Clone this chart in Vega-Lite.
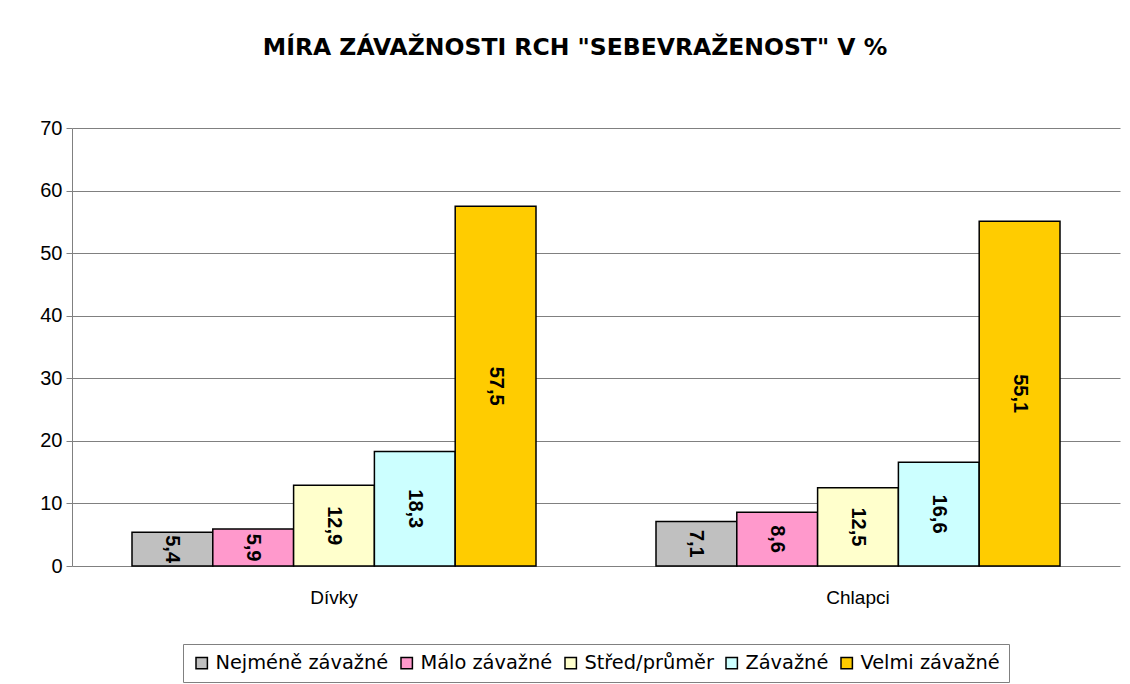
{
  "$schema": "https://vega.github.io/schema/vega-lite/v6.json",
  "autosize": "none",
  "width": 1048,
  "height": 438,
  "padding": {"left": 72, "top": 128, "right": 10, "bottom": 118},
  "background": "white",
  "title": {
    "text": "MÍRA ZÁVAŽNOSTI RCH \"SEBEVRAŽENOST\" V %",
    "anchor": "middle",
    "dx": -21,
    "offset": 59,
    "fontSize": 23.5,
    "font": "DejaVu Sans",
    "fontWeight": "bold",
    "color": "#000000"
  },
  "data": {
    "values": [
      {"group": "Dívky", "level": "Nejméně závažné", "value": 5.4, "label": "5,4"},
      {"group": "Dívky", "level": "Málo závažné", "value": 5.9, "label": "5,9"},
      {"group": "Dívky", "level": "Střed/průměr", "value": 12.9, "label": "12,9"},
      {"group": "Dívky", "level": "Závažné", "value": 18.3, "label": "18,3"},
      {"group": "Dívky", "level": "Velmi závažné", "value": 57.5, "label": "57,5"},
      {"group": "Chlapci", "level": "Nejméně závažné", "value": 7.1, "label": "7,1"},
      {"group": "Chlapci", "level": "Málo závažné", "value": 8.6, "label": "8,6"},
      {"group": "Chlapci", "level": "Střed/průměr", "value": 12.5, "label": "12,5"},
      {"group": "Chlapci", "level": "Závažné", "value": 16.6, "label": "16,6"},
      {"group": "Chlapci", "level": "Velmi závažné", "value": 55.1, "label": "55,1"}
    ]
  },
  "encoding": {
    "x": {
      "field": "group",
      "type": "nominal",
      "sort": ["Dívky", "Chlapci"],
      "scale": {"paddingInner": 0.229, "paddingOuter": 0.1145},
      "axis": {
        "title": null,
        "labelAngle": 0,
        "labelFontSize": 19,
        "labelFont": "Liberation Sans",
        "labelColor": "#000000",
        "labelPadding": 22,
        "ticks": false,
        "domain": false
      }
    },
    "xOffset": {
      "field": "level",
      "type": "nominal",
      "sort": ["Nejméně závažné", "Málo závažné", "Střed/průměr", "Závažné", "Velmi závažné"],
      "scale": {"paddingInner": 0, "paddingOuter": 0}
    }
  },
  "layer": [
    {
      "mark": {"type": "bar", "stroke": "#000000", "strokeWidth": 1.5},
      "encoding": {
        "y": {
          "field": "value",
          "type": "quantitative",
          "scale": {"domain": [0, 70], "nice": false},
          "axis": {
            "title": null,
            "values": [0, 10, 20, 30, 40, 50, 60, 70],
            "labelFontSize": 20,
            "labelFont": "Liberation Sans",
            "labelColor": "#000000",
            "labelPadding": 4,
            "tickSize": 6,
            "tickColor": "#808080",
            "domainColor": "#808080",
            "gridColor": "#808080",
            "gridWidth": 1
          }
        },
        "color": {
          "field": "level",
          "type": "nominal",
          "sort": ["Nejméně závažné", "Málo závažné", "Střed/průměr", "Závažné", "Velmi závažné"],
          "scale": {
            "domain": ["Nejméně závažné", "Málo závažné", "Střed/průměr", "Závažné", "Velmi závažné"],
            "range": ["#C0C0C0", "#FF99CC", "#FFFFCC", "#CCFFFF", "#FFCC00"]
          },
          "legend": {
            "title": null,
            "orient": "none",
            "legendX": 111,
            "legendY": 516,
            "direction": "horizontal",
            "symbolType": "square",
            "symbolSize": 130,
            "symbolStrokeColor": "#000000",
            "symbolStrokeWidth": 1.5,
            "labelFontSize": 19.4,
            "labelFont": "DejaVu Sans",
            "labelColor": "#000000",
            "labelOffset": 4,
            "columnPadding": 8,
            "labelLimit": 300,
            "strokeColor": "#808080",
            "fillColor": "#ffffff",
            "padding": 9
          }
        }
      }
    },
    {
      "transform": [{"calculate": "datum.value / 2", "as": "mid"}],
      "mark": {
        "type": "text",
        "angle": 90,
        "align": "center",
        "baseline": "middle",
        "fontSize": 20,
        "font": "Liberation Sans",
        "fontWeight": "bold",
        "color": "#000000"
      },
      "encoding": {
        "y": {"field": "mid", "type": "quantitative"},
        "text": {"field": "label", "type": "nominal"}
      }
    }
  ],
  "config": {
    "view": {"stroke": null},
    "axis": {"gridColor": "#808080"}
  }
}
